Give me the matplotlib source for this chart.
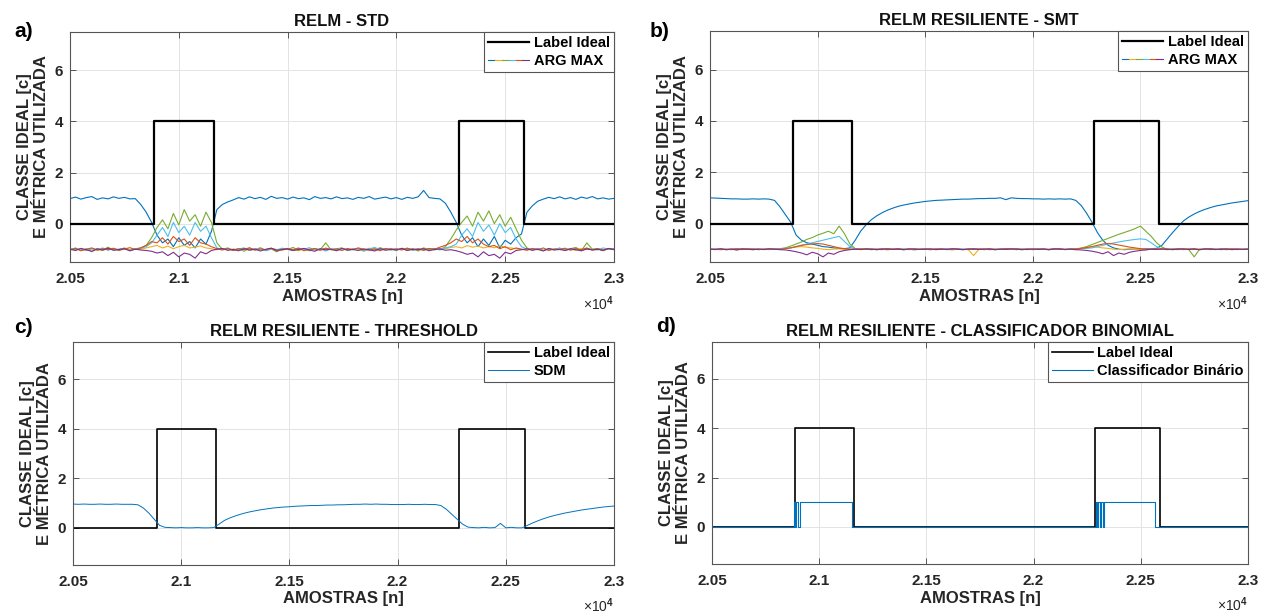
import matplotlib
matplotlib.use("Agg")
import matplotlib.pyplot as plt
import numpy as np
from matplotlib.legend_handler import HandlerTuple

plt.rcParams['font.family'] = ['Liberation Sans', 'DejaVu Sans']
plt.rcParams['font.weight'] = 'bold'
plt.rcParams['mathtext.fontset'] = 'custom'
plt.rcParams['mathtext.rm'] = 'Liberation Sans'
plt.rcParams['mathtext.bf'] = 'Liberation Sans:bold'

# ------------------------------------------------------------------
# Data, samples every 25 points
# ------------------------------------------------------------------
x_start, x_stop, x_step = 20500, 23000, 25

# ideal label (step changes)
label_x = [20500, 20886, 21162, 22286, 22588, 23000]
label_y = [0, 4, 0, 4, 0, 0]

# panel a) RELM - STD, ARG MAX outputs
a_blue = [0.98, 1.04, 0.96, 1.02, 1.06, 0.95, 1.01, 0.97, 1.05, 0.99,
          1.03, 0.97, 0.98, 0.75, 0.45, 0.05, -0.45, -0.75, -0.6, -0.9,
          -0.55, -0.85, -0.7, -0.95, -0.6, -0.8, -0.3, 0.55, 0.75, 0.85,
          0.93, 1.02, 0.96, 1.05, 0.98, 1.03, 0.95, 1.07, 0.99, 1.02,
          0.96, 1.04, 0.98, 1.01, 0.94, 1.06, 0.99, 1.02, 0.97, 1.05,
          0.98, 1.01, 0.95, 1.03, 0.99, 1.06, 0.96, 1.0, 1.04, 0.97,
          1.02, 0.95, 1.03, 0.99, 1.05, 1.3, 1.02, 0.99, 0.97, 0.8,
          0.45, 0.05, -0.45, -0.75, -0.55, -0.9, -0.6, -0.85, -0.5, -0.95,
          -0.65, -0.8, -0.55, -0.4, 0.45, 0.7, 0.88, 0.96, 1.03, 0.98,
          1.05, 0.97, 1.02, 0.95, 1.04, 0.99, 1.06, 0.97, 1.01, 0.96,
          0.99]
a_orange = [-1.03, -0.97, -1.06, -1.0, -0.95, -1.04, -0.98, -1.02, -0.96, -1.05,
            -0.99, -0.94, -1.01, -0.95, -0.85, -0.7, -0.75, -0.55, -0.8, -0.5,
            -0.7, -0.6, -0.85, -0.55, -0.75, -0.8, -0.9, -0.98, -1.03, -0.97,
            -1.05, -0.98, -1.01, -0.94, -1.04, -0.99, -1.02, -0.96, -1.08, -1.0,
            -0.97, -1.03, -0.95, -1.06, -1.0, -0.98, -1.04, -0.96, -1.01, -0.99,
            -1.05, -0.97, -1.02, -0.95, -1.0, -1.04, -0.98, -1.06, -0.97, -1.01,
            -0.99, -1.03, -0.96, -1.02, -0.98, -1.05, -0.97, -1.0, -0.92, -0.85,
            -0.75, -0.6, -0.7, -0.5, -0.75, -0.6, -0.8, -0.9, -0.85, -0.98,
            -0.9, -1.02, -0.95, -1.0, -1.04, -0.97, -1.02, -0.95, -1.05, -0.99,
            -1.01, -0.96, -1.04, -0.98, -1.02, -0.95, -1.03, -0.99, -1.06, -0.97,
            -1.0]
a_yellow = [-0.97, -1.02, -0.99, -1.04, -0.96, -1.01, -1.05, -0.98, -1.0, -1.03,
            -0.95, -1.02, -0.98, -1.0, -0.95, -0.9, -0.85, -0.95, -0.88, -0.98,
            -0.9, -0.85, -0.95, -0.92, -0.87, -0.95, -0.98, -1.02, -0.97, -1.04,
            -0.99, -1.01, -0.96, -1.05, -1.0, -0.98, -1.03, -0.97, -1.01, -1.04,
            -0.98, -1.0, -1.06, -0.97, -1.02, -0.99, -1.03, -0.96, -1.01, -1.05,
            -0.98, -1.02, -0.97, -1.0, -1.04, -0.96, -1.01, -0.99, -1.03, -0.97,
            -1.02, -0.98, -1.05, -0.99, -1.01, -0.96, -1.03, -1.0, -0.97, -0.98,
            -0.93, -0.9, -0.95, -0.86, -0.92, -0.88, -0.95, -0.9, -0.94, -0.86,
            -0.93, -0.95, -0.98, -1.0, -1.03, -0.97, -1.01, -1.04, -0.98, -1.0,
            -0.96, -1.02, -0.99, -1.05, -0.97, -1.01, -1.0, -0.98, -1.03, -0.99,
            -1.0]
a_purple = [-1.0, -1.05, -0.97, -1.02, -1.08, -0.99, -1.03, -0.96, -1.04, -1.01,
            -0.98, -1.06, -1.0, -1.03, -1.05, -1.08, -1.15, -1.1, -1.25, -1.12,
            -1.3, -1.15, -1.2, -1.35, -1.1, -1.18, -1.05, -1.0, -0.97, -1.04,
            -1.01, -1.06, -0.98, -1.03, -0.99, -1.07, -1.0, -0.96, -1.04, -1.02,
            -0.99, -1.05, -1.01, -0.97, -1.03, -1.08, -0.98, -1.02, -1.0, -1.06,
            -0.97, -1.03, -1.01, -1.05, -0.99, -1.02, -1.07, -0.98, -1.04, -1.0,
            -1.03, -0.97, -1.05, -1.0, -1.02, -0.98, -1.06, -1.01, -0.99, -1.04,
            -1.02, -1.06, -1.12, -1.2, -1.15, -1.3, -1.1, -1.25, -1.2, -1.35,
            -1.12, -1.18, -1.05, -1.02, -0.98, -1.04, -1.0, -1.07, -0.97, -1.03,
            -1.01, -1.05, -0.98, -1.02, -1.06, -0.99, -1.03, -1.0, -1.04, -0.97,
            -1.02]
a_green = [-1.02, -0.95, -1.05, -0.98, -1.1, -0.97, -1.03, -0.92, -1.04, -1.0,
           -0.96, -1.06, -0.98, -0.95, -0.85, -0.55, -0.15, 0.15, -0.2, 0.4,
           -0.05, 0.55, 0.1, 0.35, -0.1, 0.45, 0.05, -0.75, -1.0, -0.95,
           -1.04, -0.98, -1.08, -0.96, -1.02, -0.94, -1.05, -0.99, -1.1, -0.97,
           -1.01, -0.93, -1.04, -0.98, -1.06, -0.97, -1.02, -0.75, -1.03, -0.98,
           -0.95, -1.05, -1.0, -0.96, -1.08, -0.97, -1.03, -0.94, -1.01, -0.99,
           -1.05, -0.96, -1.02, -0.98, -1.07, -0.95, -1.01, -0.97, -1.03, -0.9,
           -0.6, -0.25, 0.05, 0.3, -0.1, 0.45, 0.1, 0.5, 0.0, 0.35,
           -0.1, 0.25, -0.2, -0.65, -0.95, -1.03, -0.97, -1.05, -0.99, -1.02,
           -0.96, -1.04, -0.98, -0.93, -1.06, -0.75, -1.0, -0.97, -1.03, -0.98,
           -1.01]
a_cyan = [-0.98, -1.03, -0.97, -1.05, -0.99, -1.02, -0.95, -1.04, -0.98, -1.01,
          -0.97, -1.06, -0.99, -0.96, -0.9, -0.75, -0.45, -0.15, -0.5, 0.05,
          -0.35, -0.1, -0.45, 0.05, -0.3, -0.1, -0.55, -0.95, -1.02, -0.97,
          -1.03, -0.99, -0.95, -1.04, -1.0, -0.97, -1.06, -0.98, -1.02, -0.96,
          -1.01, -1.05, -0.97, -1.0, -0.94, -1.03, -0.99, -1.07, -0.98, -1.02,
          -0.96, -1.04, -1.0, -0.97, -1.05, -0.99, -0.93, -1.02, -1.0, -1.04,
          -0.98, -1.01, -0.96, -1.05, -0.99, -1.02, -0.97, -1.03, -0.98, -0.95,
          -0.9, -0.8, -0.45, -0.2, -0.5, 0.05, -0.3, -0.05, -0.45, 0.0,
          -0.35, -0.15, -0.6, -0.9, -1.0, -1.03, -0.97, -1.05, -0.99, -1.02,
          -0.96, -1.04, -1.0, -0.98, -1.06, -0.97, -1.01, -1.03, -0.95, -1.0,
          -0.98]

# panel b) RELM RESILIENTE - SMT, ARG MAX outputs
b_blue = [1.0, 0.99, 0.98, 0.97, 0.96, 0.96, 0.95, 0.95, 0.96, 0.95,
          0.96, 0.95, 0.9, 0.65, 0.35, 0.05, -0.45, -0.65, -0.75, -0.8,
          -0.85, -0.9, -0.92, -0.95, -0.97, -0.98, -0.95, -0.65, -0.3, -0.05,
          0.15, 0.3, 0.42, 0.52, 0.6, 0.67, 0.72, 0.76, 0.8, 0.83,
          0.86, 0.88, 0.9, 0.91, 0.92, 0.93, 0.94, 0.95, 0.95, 0.96,
          0.97, 0.97, 0.98, 0.98, 1.0, 0.93, 1.0, 0.98, 0.97, 0.97,
          0.96, 0.96, 0.95, 0.96, 0.95, 0.96, 0.95, 0.96, 0.9, 0.7,
          0.4, 0.05, -0.35, -0.65, -0.85, -0.95, -1.0, -1.02, -1.0, -1.0,
          -1.0, -0.99, -0.98, -0.97, -0.85, -0.6, -0.35, -0.12, 0.1, 0.25,
          0.37, 0.47, 0.55, 0.62, 0.68, 0.72, 0.76, 0.8, 0.83, 0.86,
          0.89]
b_orange = [-1.0, -1.01, -0.99, -1.02, -1.0, -0.98, -1.01, -1.0, -0.99, -1.02,
            -1.0, -0.99, -1.01, -1.0, -0.98, -0.95, -0.9, -0.85, -0.82, -0.8,
            -0.78, -0.8, -0.85, -0.9, -0.95, -0.98, -1.0, -1.01, -0.99, -1.0,
            -1.02, -1.0, -0.99, -1.01, -1.0, -0.98, -1.02, -1.0, -0.99, -1.01,
            -1.0, -1.02, -0.99, -1.0, -1.01, -0.98, -1.0, -1.02, -0.99, -1.01,
            -1.0, -0.99, -1.02, -1.0, -1.01, -0.98, -1.0, -0.99, -1.01, -1.0,
            -1.02, -1.0, -0.99, -1.01, -1.0, -0.98, -1.02, -1.0, -0.99, -0.97,
            -0.94, -0.9, -0.85, -0.8, -0.78, -0.8, -0.84, -0.88, -0.92, -0.95,
            -0.98, -1.0, -1.01, -0.99, -1.0, -1.02, -1.0, -0.99, -1.01, -1.0,
            -0.98, -1.02, -1.0, -0.99, -1.01, -1.0, -1.02, -0.99, -1.0, -1.01,
            -1.0]
b_yellow = [-1.02, -1.0, -1.03, -0.99, -1.01, -1.0, -1.02, -0.98, -1.0, -1.01,
            -1.0, -1.02, -0.99, -1.0, -0.97, -0.95, -0.92, -0.9, -0.92, -0.95,
            -0.97, -1.0, -1.02, -1.0, -0.99, -1.01, -1.0, -0.98, -1.02, -1.0,
            -0.99, -1.01, -1.0, -1.03, -0.99, -1.0, -1.02, -1.0, -1.01, -0.99,
            -1.0, -1.02, -0.99, -1.01, -1.0, -1.03, -0.99, -1.0, -1.02, -1.25,
            -1.0, -1.01, -0.99, -1.02, -1.0, -1.01, -0.99, -1.0, -1.02, -1.0,
            -1.01, -0.99, -1.0, -1.02, -1.0, -0.99, -1.01, -1.0, -0.98, -0.96,
            -0.93, -0.9, -0.92, -0.95, -0.97, -1.0, -1.02, -1.0, -0.99, -1.01,
            -1.0, -1.02, -0.99, -1.0, -1.01, -0.98, -1.0, -1.02, -0.99, -1.0,
            -1.01, -0.99, -1.0, -1.02, -1.0, -1.01, -0.99, -1.0, -1.02, -1.0,
            -1.0]
b_purple = [-1.0, -1.01, -0.99, -1.02, -1.0, -1.03, -0.99, -1.0, -1.02, -1.0,
            -1.01, -0.99, -1.0, -1.02, -1.03, -1.06, -1.1, -1.15, -1.22, -1.12,
            -1.18, -1.3, -1.15, -1.2, -1.1, -1.05, -1.02, -1.0, -1.01, -0.99,
            -1.0, -1.02, -1.0, -0.99, -1.01, -1.0, -1.02, -0.99, -1.0, -1.01,
            -1.0, -0.99, -1.02, -1.0, -1.01, -0.99, -1.0, -1.02, -1.0, -0.99,
            -1.01, -1.0, -0.99, -1.02, -1.0, -1.01, -0.99, -1.0, -1.02, -1.0,
            -0.99, -1.01, -1.0, -1.02, -0.99, -1.0, -1.01, -1.0, -1.02, -1.03,
            -1.05, -1.08, -1.12, -1.18, -1.1, -1.25, -1.15, -1.2, -1.12, -1.08,
            -1.05, -1.03, -1.0, -1.01, -0.99, -1.0, -1.02, -1.0, -0.99, -1.01,
            -1.0, -1.02, -0.99, -1.0, -1.01, -1.0, -0.99, -1.02, -1.0, -1.01,
            -1.0]
b_green = [-1.0, -1.02, -0.99, -1.01, -1.0, -1.03, -0.98, -1.0, -1.02, -0.99,
           -1.01, -1.0, -0.99, -0.98, -0.95, -0.88, -0.8, -0.72, -0.62, -0.55,
           -0.45, -0.38, -0.3, -0.4, -0.1, -0.4, -0.8, -0.98, -1.0, -1.01,
           -0.99, -1.0, -1.02, -0.98, -1.0, -1.01, -0.99, -1.0, -1.03, -1.0,
           -0.99, -1.01, -1.0, -0.98, -1.02, -1.0, -0.99, -1.01, -1.0, -0.98,
           -1.0, -1.02, -0.99, -1.0, -1.01, -0.98, -1.0, -1.02, -0.99, -1.0,
           -1.01, -0.99, -1.0, -1.02, -0.98, -1.0, -1.01, -0.99, -1.0, -0.96,
           -0.9, -0.82, -0.74, -0.66, -0.58, -0.5, -0.42, -0.35, -0.28, -0.2,
           -0.1, -0.3, -0.5, -0.75, -0.92, -1.0, -1.01, -0.99, -1.0, -1.02,
           -1.3, -1.0, -1.01, -0.98, -1.0, -1.02, -1.0, -0.99, -1.01, -1.0,
           -1.0]
b_cyan = [-1.0, -0.99, -1.01, -1.0, -1.02, -0.98, -1.0, -1.01, -0.99, -1.0,
          -1.02, -1.0, -0.99, -0.98, -0.97, -0.95, -0.9, -0.85, -0.8, -0.75,
          -0.7, -0.65, -0.6, -0.55, -0.5, -0.7, -0.9, -1.0, -1.01, -0.99,
          -1.0, -1.02, -0.99, -1.0, -1.01, -0.98, -1.0, -1.02, -0.99, -1.01,
          -1.0, -0.99, -1.01, -1.0, -0.98, -1.02, -1.0, -0.99, -1.01, -1.0,
          -0.99, -1.01, -1.0, -1.02, -0.98, -1.0, -1.01, -0.99, -1.0, -1.02,
          -1.0, -0.99, -1.01, -1.0, -0.98, -1.01, -1.0, -0.99, -1.02, -0.98,
          -0.97, -0.95, -0.9, -0.85, -0.8, -0.76, -0.72, -0.68, -0.65, -0.62,
          -0.6, -0.62, -0.75, -0.9, -1.0, -1.01, -0.99, -1.0, -1.02, -0.99,
          -1.0, -1.01, -0.99, -1.0, -1.02, -0.98, -1.0, -1.01, -0.99, -1.0,
          -1.0]

# panel c) RELM RESILIENTE - THRESHOLD, SDM metric
c_sdm = [0.96, 0.95, 0.96, 0.95, 0.95, 0.96, 0.95, 0.95, 0.96, 0.95,
         0.95, 0.95, 0.93, 0.8, 0.6, 0.35, 0.1, 0.02, 0.01, 0.0,
         0.01, 0.0, 0.0, 0.01, 0.0, 0.0, 0.01, 0.15, 0.3, 0.4,
         0.48, 0.55, 0.61, 0.66, 0.7, 0.74, 0.77, 0.8, 0.82, 0.84,
         0.85, 0.87, 0.88, 0.89, 0.9, 0.9, 0.91, 0.92, 0.92, 0.93,
         0.93, 0.94, 0.95, 0.95, 0.96, 0.95, 0.96, 0.95, 0.95, 0.94,
         0.94, 0.94, 0.95, 0.94, 0.94, 0.95, 0.94, 0.94, 0.9, 0.75,
         0.55, 0.35, 0.15, 0.03, 0.01, 0.0, 0.02, 0.0, 0.01, 0.18,
         0.0, 0.02, 0.0, 0.0, 0.1, 0.2, 0.29, 0.37, 0.44, 0.5,
         0.55, 0.6, 0.64, 0.68, 0.72, 0.75, 0.78, 0.81, 0.84, 0.86,
         0.88]

# panel d) RELM RESILIENTE - CLASSIFICADOR BINOMIAL (step change points)
bin_x = [20500, 20881, 20887, 20893, 20899, 20912, 21152,
         22290, 22296, 22302, 22308, 22316, 22322, 22330, 22568, 23000]
bin_y = [0, 1, 0, 1, 0, 1, 0,
         1, 0, 1, 0, 1, 0, 1, 0, 0]

xticks = [20500, 21000, 21500, 22000, 22500, 23000]
xtick_labels = ['2.05', '2.1', '2.15', '2.2', '2.25', '2.3']
yticks = [0, 2, 4, 6]

# MATLAB default colour order
c_blue, c_orange, c_yellow = '#0072BD', '#D95319', '#EDB120'
c_purple, c_green, c_cyan = '#7E2F8E', '#77AC30', '#4DBEEE'

x = np.arange(x_start, x_stop + 1, x_step)

fig = plt.figure(figsize=(12.62, 6.14), dpi=100)
W, H = 1262, 614
pos = {
    'a': [70 / W, 1 - 262 / H, 544 / W, 230 / H],
    'b': [710 / W, 1 - 262 / H, 538 / W, 231 / H],
    'c': [73 / W, 1 - 565 / H, 541 / W, 223 / H],
    'd': [712 / W, 1 - 564 / H, 536 / W, 222 / H],
}
titles = {
    'a': 'RELM - STD',
    'b': 'RELM RESILIENTE - SMT',
    'c': 'RELM RESILIENTE - THRESHOLD',
    'd': 'RELM RESILIENTE - CLASSIFICADOR BINOMIAL',
}
frame_col = '#555555'


def style_axes(ax, key):
    ax.set_xlim(x_start, x_stop)
    ax.set_ylim(-1.5, 7.5)
    ax.set_xticks(xticks)
    ax.set_xticklabels(xtick_labels)
    ax.set_yticks(yticks)
    ax.grid(True, color='#e3e3e3', lw=0.7)
    ax.set_axisbelow(True)
    for s in ax.spines.values():
        s.set_color(frame_col)
        s.set_linewidth(0.8)
    ax.tick_params(direction='in', length=4, width=0.7, color=frame_col,
                   top=True, right=True, labelsize=11, labelcolor='#262626')
    ax.tick_params(axis='x', pad=7)
    ax.tick_params(axis='y', pad=5)
    ax.set_title(titles[key], fontsize=12, fontweight='bold', pad=4, color='#111111')
    ax.set_xlabel('AMOSTRAS [n]', fontsize=12, fontweight='bold', labelpad=2, color='#262626')
    ax.set_ylabel('CLASSE IDEAL [c]\nE MÉTRICA UTILIZADA', fontsize=12,
                  fontweight='bold', labelpad=4, color='#262626', linespacing=1.15)
    ax.text(1.0, -0.14, '×10$^{4}$', transform=ax.transAxes, ha='right',
            va='top', fontsize=10, fontweight='normal', color='#262626')


def add_legend(ax, handles, labels):
    leg = ax.legend(handles, labels, loc='upper right', borderaxespad=0,
                    fancybox=False, framealpha=1, edgecolor=frame_col,
                    fontsize=10.5, handlelength=2.8, handletextpad=0.3,
                    labelspacing=0.25, borderpad=0.3,
                    handler_map={tuple: HandlerTuple(ndivide=None, pad=0)})
    leg.get_frame().set_linewidth(0.8)
    for t in leg.get_texts():
        t.set_fontweight('bold')


def argmax_panel(ax, series):
    lab, = ax.step(label_x, label_y, where='post', color='k', lw=1.6, zorder=5)
    lines = []
    for vals, col in series:
        ln, = ax.plot(x, vals, color=col, lw=0.8)
        lines.append(ln)
    add_legend(ax, [lab, tuple(lines)], ['Label Ideal', 'ARG MAX'])


ax_a = fig.add_axes(pos['a'])
argmax_panel(ax_a, [(a_blue, c_blue), (a_yellow, c_yellow), (a_green, c_green),
                    (a_cyan, c_cyan), (a_orange, c_orange), (a_purple, c_purple)])
style_axes(ax_a, 'a')

ax_b = fig.add_axes(pos['b'])
argmax_panel(ax_b, [(b_blue, c_blue), (b_yellow, c_yellow), (b_green, c_green),
                    (b_cyan, c_cyan), (b_orange, c_orange), (b_purple, c_purple)])
style_axes(ax_b, 'b')

ax_c = fig.add_axes(pos['c'])
lab_c, = ax_c.step(label_x, label_y, where='post', color='k', lw=1.2)
sdm, = ax_c.plot(x, c_sdm, color=c_blue, lw=0.7)
add_legend(ax_c, [lab_c, sdm], ['Label Ideal', 'SDM'])
style_axes(ax_c, 'c')

ax_d = fig.add_axes(pos['d'])
lab_d, = ax_d.step(label_x, label_y, where='post', color='k', lw=1.2)
binc, = ax_d.step(bin_x, bin_y, where='post', color=c_blue, lw=0.8)
add_legend(ax_d, [lab_d, binc], ['Label Ideal', 'Classificador Binário'])
style_axes(ax_d, 'd')

# panel letters
for key, (px, py) in {'a': (14, 37), 'b': (650, 37), 'c': (14, 333), 'd': (656, 332)}.items():
    fig.text(px / W, 1 - py / H, key + ')', fontsize=15, fontweight='bold',
             ha='left', va='baseline')

fig.savefig('out.png', dpi=100)
